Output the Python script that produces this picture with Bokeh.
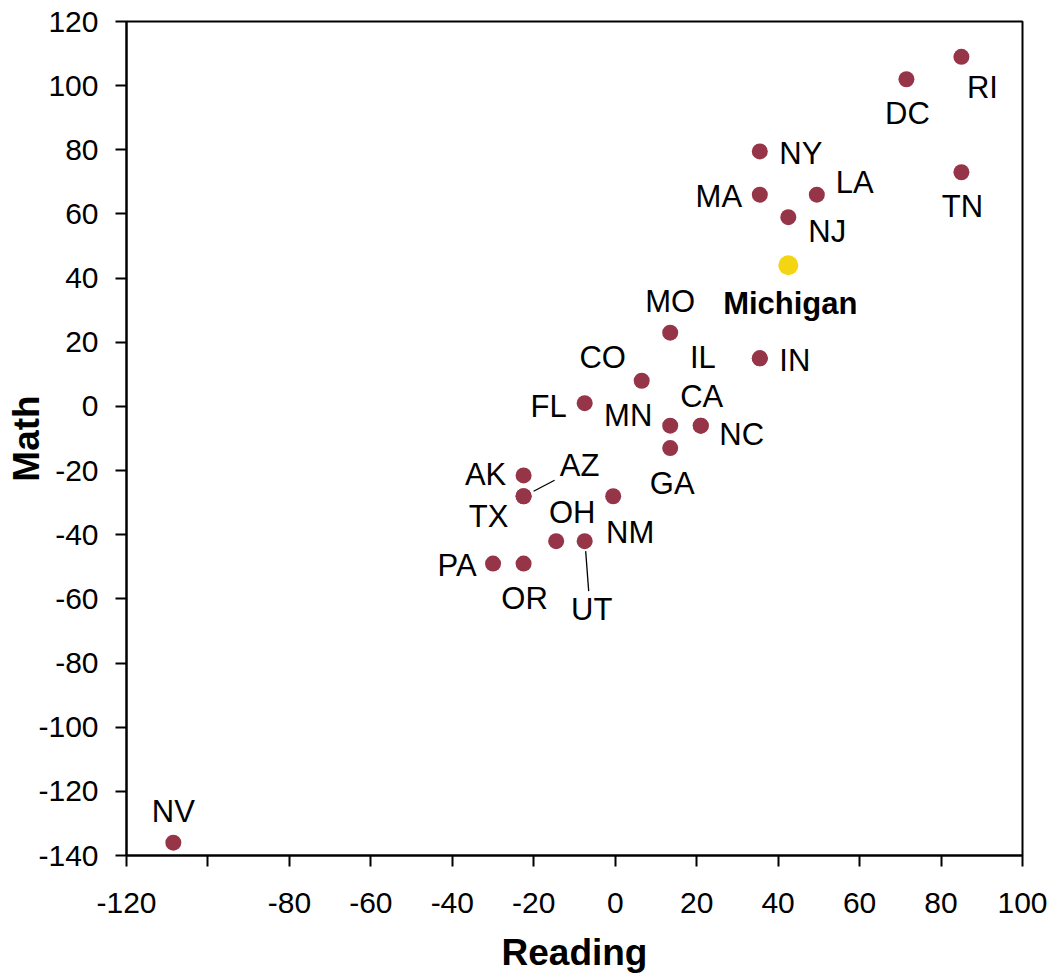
from bokeh.plotting import figure
from bokeh.models import Range1d, FixedTicker, ColumnDataSource
from bokeh.core.properties import value
from bokeh.embed import file_html
from bokeh.resources import INLINE

# ---- data ----
states = ["NV", "RI", "DC", "TN", "NY", "MA", "LA", "NJ", "MO", "IL", "IN", "CO", "FL",
          "CA", "MN", "NC", "GA", "AK", "AZ", "TX", "OH", "NM", "PA", "OR", "UT"]
reading = [-108.5, 85, 71.5, 85, 35.5, 35.5, 49.5, 42.5, 13.5, 35.5, 35.5, 6.5, -7.5,
           21, 13.5, 21, 13.5, -22.5, -22.5, -22.5, -14.5, -0.5, -30, -22.5, -7.5]
math = [-136, 109, 102, 73, 79.5, 66, 66, 59, 23, 15, 15, 8, 1,
        -6, -6, -6, -13, -21.5, -28, -28, -42, -28, -49, -49, -42]
highlight_name = ["Michigan"]
highlight_reading = [42.5]
highlight_math = [44]
x_ticks = [-120, -100, -80, -60, -40, -20, 0, 20, 40, 60, 80, 100]
x_tick_labels = ["-120", "", "-80", "-60", "-40", "-20", "0", "20", "40", "60", "80", "100"]
y_ticks = [-140, -120, -100, -80, -60, -40, -20, 0, 20, 40, 60, 80, 100, 120]
y_tick_labels = ["-140", "-120", "-100", "-80", "-60", "-40", "-20", "0", "20", "40", "60", "80", "100", "120"]

# ---- label placement (screen pixels, y down) ----
label_offsets = {
    "NV": (0, -31), "RI": (21, 31), "DC": (1, 34), "TN": (1, 34), "NY": (41, 2),
    "MA": (-41, 2), "LA": (38, -12), "NJ": (39, 14), "MO": (0, -31), "IL": (-57, -1),
    "IN": (35, 2), "CO": (-39, -23), "FL": (-36, 3), "CA": (1, -29), "MN": (-42, -10),
    "NC": (41, 9), "GA": (2, 35), "AK": (-38, -1), "AZ": (56, -31), "TX": (-35, 20),
    "OH": (16, -29), "NM": (17, 36), "PA": (-36, 2), "OR": (1, 35), "UT": (7, 68),
}
leaders = {"AZ": ((10, -5), (31, -16)), "UT": ((1, 10), (4, 50))}

W, H = 1050, 978
ML, MR, MT, MB = 126, 28, 21, 123
FW, FH = W - ML - MR, H - MT - MB
XMIN, XMAX, YMIN, YMAX = -120, 100, -140, 120
sx = FW / (XMAX - XMIN)
sy = FH / (YMAX - YMIN)

FONT = "Liberation Sans"
MAROON = "#963448"
YELLOW = "#F4D514"

p = figure(width=W, height=H, output_backend="svg", toolbar_location=None,
           x_range=Range1d(XMIN, XMAX), y_range=Range1d(YMIN, YMAX),
           min_border_left=ML, min_border_right=MR, min_border_top=MT, min_border_bottom=MB)
p.grid.visible = False
p.outline_line_color = "black"
p.outline_line_width = 2
p.background_fill_color = "white"
p.border_fill_color = "white"

for ax in (p.xaxis[0], p.yaxis[0]):
    ax.axis_line_width = 2
    ax.major_tick_line_width = 2
    ax.major_tick_in = 0
    ax.major_tick_out = 11
    ax.minor_tick_line_color = None
    ax.major_label_text_font = FONT
    ax.major_label_text_font_size = "30px"
    ax.major_label_text_color = "black"
    ax.axis_label_text_font = FONT
    ax.axis_label_text_font_size = "37px"
    ax.axis_label_text_font_style = "bold"
    ax.axis_label_text_color = "black"

p.xaxis.ticker = FixedTicker(ticks=x_ticks)
p.yaxis.ticker = FixedTicker(ticks=y_ticks)
p.xaxis.major_label_overrides = dict(zip(x_ticks, x_tick_labels))
p.yaxis.major_label_overrides = dict(zip(y_ticks, y_tick_labels))
p.xaxis.axis_label = "Reading"
p.yaxis.axis_label = "Math"
p.xaxis.major_label_standoff = 26
p.yaxis.major_label_standoff = 17
p.xaxis.axis_label_standoff = 16
p.yaxis.axis_label_standoff = -12

# leader lines
lx0, ly0, lx1, ly1 = [], [], [], []
for name, ((a, b), (c, d)) in leaders.items():
    i = states.index(name)
    lx0.append(reading[i] + a / sx); ly0.append(math[i] - b / sy)
    lx1.append(reading[i] + c / sx); ly1.append(math[i] - d / sy)
p.segment(lx0, ly0, lx1, ly1, line_color="black", line_width=1.3)

src = ColumnDataSource(dict(
    x=reading, y=math, name=states,
    dx=[label_offsets[s][0] for s in states],
    dy=[label_offsets[s][1] for s in states],
))
p.scatter("x", "y", source=src, size=16, fill_color=MAROON, line_color=MAROON, line_width=0)
p.scatter(highlight_reading, highlight_math, size=20, fill_color=YELLOW, line_color=YELLOW, line_width=0)

p.text("x", "y", text="name", source=src, x_offset="dx", y_offset="dy",
       text_align="center", text_baseline="middle",
       text_font=value(FONT), text_font_size="31px", text_color="black")
p.text(highlight_reading, highlight_math, text=highlight_name, x_offset=2, y_offset=38,
       text_align="center", text_baseline="middle",
       text_font=value(FONT), text_font_size="31px", text_font_style="bold", text_color="black")

open("out.html", "w").write(file_html(p, INLINE))
